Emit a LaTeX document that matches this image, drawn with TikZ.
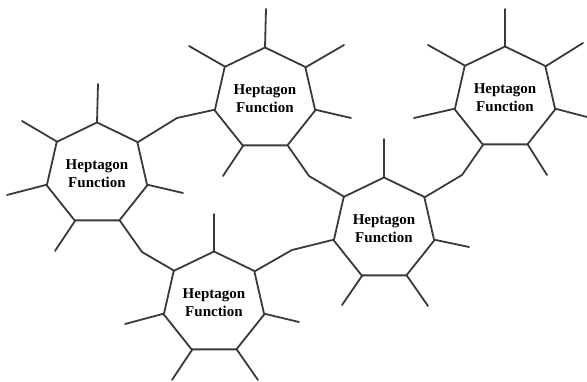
\documentclass[tikz,border=0pt]{standalone}
\usepackage{fontspec}
\setmainfont{Liberation Serif}
\usetikzlibrary{shapes.geometric}

\tikzset{
  hept/.style={regular polygon, regular polygon sides=7, minimum size=103pt,
    inner sep=0pt, outer sep=0pt, draw=edgegray, line width=1.8pt,
    font=\bfseries\fontsize{15}{18}\selectfont, align=center, text=black},
  spoke/.style={draw=edgegray, line width=1.8pt, line cap=round, line join=round},
}
\definecolor{edgegray}{HTML}{3A3A3A}

\begin{document}
\begin{tikzpicture}[x=1pt, y=-1pt]
  \useasboundingbox (0,0) rectangle (587,382);

  % heptagons
  \node[hept] (h1) at (97,174)  {Heptagon\\Function};
  \node[hept] (h2) at (265,99)  {Heptagon\\Function};
  \node[hept] (h3) at (384,229) {Heptagon\\Function};
  \node[hept] (h4) at (214,303) {Heptagon\\Function};
  \node[hept] (h5) at (505,98)  {Heptagon\\Function};

  % bends of the links between heptagons
  \coordinate (b12) at (177,118);
  \coordinate (b14) at (142,252);
  \coordinate (b23) at (309,176);
  \coordinate (b35) at (462,175);
  \coordinate (b34) at (292,250);

  % links
  \draw[spoke] (h1.38.57) -- (b12) -- (h2.192.86);
  \draw[spoke] (h1.-64.29) -- (b14) -- (h4.141.43);
  \draw[spoke] (h2.-64.29) -- (b23) -- (h3.141.43);
  \draw[spoke] (h3.38.57) -- (b35) -- (h5.-115.71);
  \draw[spoke] (h3.192.86) -- (b34) -- (h4.38.57);

  % free ends of the spokes
  \coordinate (a0) at (98,84);
  \coordinate (a6) at (22,121);
  \coordinate (a5) at (7,195);
  \coordinate (a2) at (183,193);
  \coordinate (a4) at (55,251);

  \coordinate (c0) at (266,9);
  \coordinate (c6) at (189,46);
  \coordinate (c1) at (344,45);
  \coordinate (c2) at (351,118);
  \coordinate (c4) at (223,176);

  \coordinate (d0) at (384,139);
  \coordinate (d2) at (469,247);
  \coordinate (d3) at (428,306);
  \coordinate (d4) at (342,305);

  \coordinate (e0) at (214,214);
  \coordinate (e5) at (125,324);
  \coordinate (e2) at (299,322);
  \coordinate (e4) at (172,380);
  \coordinate (e3) at (258,380);

  \coordinate (f0) at (505,9);
  \coordinate (f6) at (428,45);
  \coordinate (f1) at (583,43);
  \coordinate (f5) at (414,118);
  \coordinate (f2) at (587,117);
  \coordinate (f3) at (547,175);

  % spokes
  \draw[spoke] (h1.90) -- (a0);
  \draw[spoke] (h1.141.43) -- (a6);
  \draw[spoke] (h1.192.86) -- (a5);
  \draw[spoke] (h1.-12.86) -- (a2);
  \draw[spoke] (h1.-115.71) -- (a4);

  \draw[spoke] (h2.90) -- (c0);
  \draw[spoke] (h2.141.43) -- (c6);
  \draw[spoke] (h2.38.57) -- (c1);
  \draw[spoke] (h2.-12.86) -- (c2);
  \draw[spoke] (h2.-115.71) -- (c4);

  \draw[spoke] (h3.90) -- (d0);
  \draw[spoke] (h3.-12.86) -- (d2);
  \draw[spoke] (h3.-64.29) -- (d3);
  \draw[spoke] (h3.-115.71) -- (d4);

  \draw[spoke] (h4.90) -- (e0);
  \draw[spoke] (h4.192.86) -- (e5);
  \draw[spoke] (h4.-12.86) -- (e2);
  \draw[spoke] (h4.-115.71) -- (e4);
  \draw[spoke] (h4.-64.29) -- (e3);

  \draw[spoke] (h5.90) -- (f0);
  \draw[spoke] (h5.141.43) -- (f6);
  \draw[spoke] (h5.38.57) -- (f1);
  \draw[spoke] (h5.192.86) -- (f5);
  \draw[spoke] (h5.-12.86) -- (f2);
  \draw[spoke] (h5.-64.29) -- (f3);
\end{tikzpicture}
\end{document}
